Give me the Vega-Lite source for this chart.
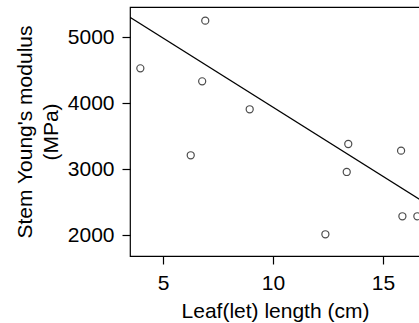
{
  "$schema": "https://vega.github.io/schema/vega-lite/v6.json",
  "width": 290,
  "height": 249,
  "autosize": "none",
  "padding": {"left": 130, "top": 7, "right": 0, "bottom": 67},
  "config": {
    "view": {"stroke": "black", "strokeWidth": 1.2},
    "font": "Liberation Sans",
    "axis": {
      "grid": false,
      "domain": false,
      "tickColor": "black",
      "tickSize": 8,
      "tickWidth": 1.2,
      "labelFontSize": 21,
      "labelColor": "black",
      "labelFont": "Liberation Sans",
      "titleFont": "Liberation Sans",
      "titleFontSize": 21,
      "titleFontWeight": "normal",
      "titleColor": "black",
      "labelPadding": 8
    }
  },
  "datasets": {
    "pts": [
      {"leaf": 3.97, "modulus": 4530},
      {"leaf": 6.92, "modulus": 5252},
      {"leaf": 6.78, "modulus": 4333},
      {"leaf": 6.26, "modulus": 3212},
      {"leaf": 8.94, "modulus": 3909},
      {"leaf": 13.42, "modulus": 3383},
      {"leaf": 13.35, "modulus": 2959},
      {"leaf": 12.38, "modulus": 2015},
      {"leaf": 15.82, "modulus": 3282},
      {"leaf": 15.88, "modulus": 2288},
      {"leaf": 16.56, "modulus": 2288}
    ],
    "fit": [
      {"leaf": 3.5, "modulus": 5303},
      {"leaf": 16.7, "modulus": 2537}
    ]
  },
  "layer": [
    {
      "data": {"name": "fit"},
      "mark": {"type": "line", "color": "black", "strokeWidth": 1.2, "clip": true},
      "encoding": {
        "x": {"field": "leaf", "type": "quantitative"},
        "y": {"field": "modulus", "type": "quantitative"}
      }
    },
    {
      "data": {"name": "pts"},
      "mark": {"type": "point", "shape": "circle", "filled": false, "color": "black", "strokeWidth": 1.2, "size": 50, "clip": true},
      "encoding": {
        "x": {
          "field": "leaf",
          "type": "quantitative",
          "scale": {"domain": [3.5, 16.68], "nice": false, "zero": false},
          "axis": {"values": [5, 10, 15], "title": "Leaf(let) length (cm)", "titlePadding": 7}
        },
        "y": {
          "field": "modulus",
          "type": "quantitative",
          "scale": {"domain": [1686, 5459], "nice": false, "zero": false},
          "axis": {"values": [2000, 3000, 4000, 5000], "format": "d", "title": ["Stem Young's modulus", "(MPa)"], "titlePadding": 6, "titleLineHeight": 26}
        }
      }
    }
  ]
}
